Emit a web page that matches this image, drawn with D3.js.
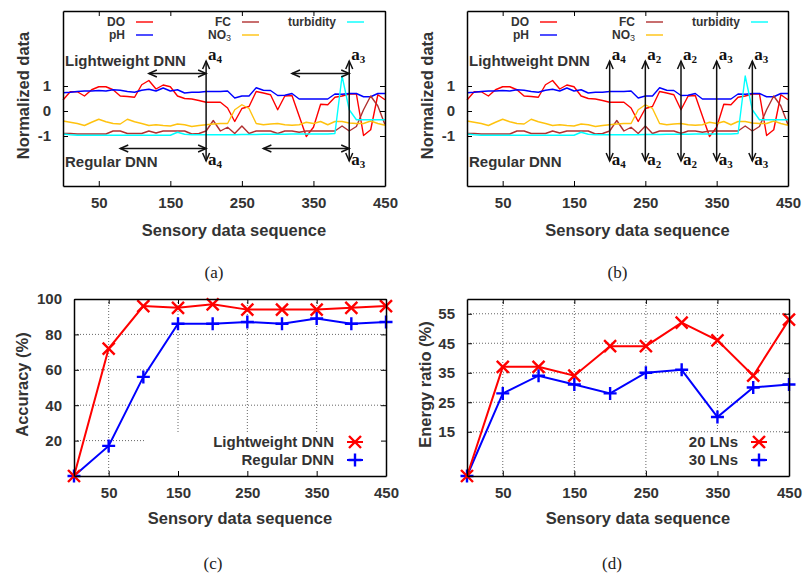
<!DOCTYPE html>
<html>
<head>
<meta charset="utf-8">
<script src="https://cdn.jsdelivr.net/npm/d3@7"></script>
<style>
  body { margin: 0; background: #fff; }
  text { font-family: "Liberation Sans", Arial, sans-serif; }
</style>
</head>
<body>
<svg id="fig" width="804" height="576"></svg>
<script>
// ---- data ----
var seq = d3.range(0, 451, 10);   // sensory data sequence, every 10 samples

var doVals   = [0.44,0.77,0.77,0.6,0.85,0.97,0.97,0.85,0.6,0.58,0.55,1.05,1.22,0.88,1.04,0.97,0.6,0.5,0.48,0.42,0.35,0.35,0.35,0.12,-0.42,0.1,0.18,0.78,0.72,0.65,0.05,0.6,0.62,-0.2,-1.02,-0.65,0.27,0.25,0.55,0.6,0.68,0.68,-0.98,-0.75,0.65,0.45];
var phVals   = [0.73,0.75,0.78,0.8,0.8,0.82,0.8,0.85,0.83,0.78,0.75,0.83,0.87,0.8,0.92,0.8,0.85,0.72,0.75,0.75,0.78,0.78,0.78,0.8,0.52,0.6,0.6,0.93,0.83,0.82,0.62,0.63,0.7,0.48,0.48,0.48,0.48,0.48,0.68,0.67,0.7,0.7,0.57,0.57,0.7,0.7];
var fcVals   = [-0.9,-0.9,-0.92,-0.92,-0.92,-0.92,-0.92,-0.8,-0.8,-0.9,-0.9,-0.9,-0.8,-0.88,-0.8,-0.8,-0.8,-0.8,-0.92,-0.9,-0.8,-0.38,-0.8,-0.65,-0.9,-0.6,-0.9,-0.8,-0.8,-0.8,-0.9,-0.8,-0.8,-0.85,-0.8,-0.8,-0.8,-0.8,-0.8,-0.6,-0.8,-0.62,0.05,0.6,0.2,-0.55];
var no3Vals  = [-0.4,-0.45,-0.5,-0.58,-0.45,-0.33,-0.43,-0.5,-0.52,-0.33,-0.43,-0.5,-0.58,-0.55,-0.58,-0.6,-0.52,-0.55,-0.62,-0.58,-0.55,-0.52,-0.5,-0.5,0.05,0.25,0.1,-0.5,-0.55,-0.52,-0.5,-0.55,-0.57,-0.55,-0.45,-0.5,-0.42,-0.55,-0.42,-0.42,-0.48,-0.5,-0.5,-0.4,-0.5,-0.57];
var turbVals = [-0.92,-0.95,-0.97,-0.97,-0.97,-0.97,-0.97,-0.97,-0.97,-0.97,-0.97,-0.97,-0.97,-0.97,-0.97,-0.97,-0.85,-0.93,-0.95,-0.95,-0.95,-0.95,-0.95,-0.95,-0.95,-0.94,-0.94,-0.94,-0.93,-0.93,-0.93,-0.93,-0.92,-0.92,-0.92,-0.92,-0.92,-0.92,-0.9,1.4,0.05,-0.35,-0.35,-0.35,-0.35,-0.35];

// arrows of panel (a) and (b)
var arrowXA = [200, 400];
var arrowSubA = ["4", "3"];
var spanTopA = [[120, 200], [320, 400]];
var spanBotA = [[80, 200], [280, 400]];
var arrowXB = [200, 250, 300, 350, 400];
var arrowSubB = ["4", "2", "2", "3", "3"];

// panel (c) and (d)
var steps = [0, 50, 100, 150, 200, 250, 300, 350, 400, 450];
var accLight   = [0, 72, 96, 95, 97, 94, 94, 94, 95, 96];
var accRegular = [0, 17, 56, 86, 86, 87, 86, 89, 86, 87];
var energy20 = [0, 37, 37, 34, 44, 44, 52, 46, 34, 53];
var energy30 = [0, 28, 34, 31, 28, 35, 36, 20, 30, 31];

var xTicks = [50, 150, 250, 350, 450];
var yTicksSensor = [-1, 0, 1];
var yTicksAcc = [20, 40, 60, 80, 100];
var yTicksEnergy = [15, 25, 35, 45, 55];

var sensorSeries = [
  { name: "DO", values: doVals, color: "#ff0000" },
  { name: "pH", values: phVals, color: "#0000ff" },
  { name: "FC", values: fcVals, color: "#b03030" },
  { name: "NO3", values: no3Vals, color: "#ffc20e" },
  { name: "turbidity", values: turbVals, color: "#00ffff" }
];

var svg = d3.select("#fig");
var textColor = "#333";
var plainNum = function(d) { return String(d); };   // "-1" with a hyphen, no decimals

// frame + inward ticks on 4 sides
function drawAxes(g, x, y, yTicks) {
  var r = x.range(), t = y.range();
  g.append("g")
      .attr("transform", "translate(0," + t[0] + ")")
      .call(d3.axisBottom(x).tickValues(xTicks).tickFormat(plainNum).tickSize(-5).tickSizeOuter(0).tickPadding(11));
  g.append("g")
      .attr("transform", "translate(0," + t[1] + ")")
      .call(d3.axisTop(x).tickValues(xTicks).tickSize(-5).tickSizeOuter(0).tickFormat(""));
  g.append("g")
      .attr("transform", "translate(" + r[0] + ",0)")
      .call(d3.axisLeft(y).tickValues(yTicks).tickFormat(plainNum).tickSize(-5).tickSizeOuter(0).tickPadding(12));
  g.append("g")
      .attr("transform", "translate(" + r[1] + ",0)")
      .call(d3.axisRight(y).tickValues(yTicks).tickSize(-5).tickSizeOuter(0).tickFormat(""));
  g.selectAll(".domain").attr("stroke", "#000").attr("stroke-width", 1.5);
  g.selectAll(".tick line").attr("stroke", "#000").attr("stroke-width", 1);
  g.selectAll(".tick text")
      .attr("fill", textColor)
      .style("font-family", "'Liberation Sans', Arial, sans-serif")
      .style("font-weight", "bold")
      .style("font-size", "15px");
}

function axisTitles(g, x, y, ytitle, ylabelX, xlabelY) {
  var r = x.range(), t = y.range();
  g.append("text")
      .attr("x", (r[0] + r[1]) / 2 + 10)
      .attr("y", xlabelY)
      .attr("text-anchor", "middle")
      .attr("fill", textColor)
      .style("font-weight", "bold")
      .style("font-size", "16.5px")
      .text("Sensory data sequence");
  g.append("text")
      .attr("transform", "translate(" + ylabelX + "," + ((t[0] + t[1]) / 2 - 3) + ") rotate(-90)")
      .attr("text-anchor", "middle")
      .attr("dy", "0.35em")
      .attr("fill", textColor)
      .style("font-weight", "bold")
      .style("font-size", "16.5px")
      .text(ytitle);
}

function caption(cx, cy, s) {
  svg.append("text")
      .attr("x", cx)
      .attr("y", cy)
      .attr("text-anchor", "middle")
      .style("font-family", "'Liberation Serif', 'Times New Roman', serif")
      .style("font-size", "17px")
      .attr("fill", "#222")
      .text(s);
}

// open V arrow head at (tx,ty), pointing along (dx,dy)
function arrowHead(g, tx, ty, dx, dy) {
  var len = 8, half = 3.5;
  var bx = tx - dx * len, by = ty - dy * len;
  var px = -dy * half, py = dx * half;
  g.append("path")
      .attr("d", "M" + (bx + px) + "," + (by + py) + "L" + tx + "," + ty + "L" + (bx - px) + "," + (by - py))
      .attr("fill", "none")
      .attr("stroke", "#111")
      .attr("stroke-width", 1.5);
}

function subLabel(g, xx, yy, sub) {
  var t = g.append("text")
      .attr("x", xx)
      .attr("y", yy)
      .attr("fill", "#111")
      .style("font-family", "'Liberation Serif', 'Times New Roman', serif")
      .style("font-size", "17px")
      .style("font-weight", "bold")
      .text("a");
  t.append("tspan")
      .attr("dy", 3)
      .style("font-size", "11px")
      .text(sub);
}

function sensorPanel(left, right, arrowsX, arrowsSub, spansTop, spansBot, cap) {
  var g = svg.append("g");
  var x = d3.scaleLinear().domain([0, 450]).range([left, right]);
  var y = d3.scaleLinear().domain([-3, 4]).range([186, 11]);

  var line = d3.line()
      .x(function(d, i) { return x(seq[i]); })
      .y(function(d) { return y(d); });

  sensorSeries.forEach(function(s) {
    g.append("path")
        .attr("d", line(s.values))
        .attr("fill", "none")
        .attr("stroke", s.color)
        .attr("stroke-width", 1.4)
        .attr("stroke-linejoin", "round");
  });

  // legend (two rows, three columns)
  var legX = [left + 62, left + 168, left + 273];
  var legY = [22, 35];
  sensorSeries.forEach(function(s, i) {
    var col = i < 2 ? 0 : (i < 4 ? 1 : 2);
    var row = (i === 1 || i === 3) ? 1 : 0;
    var t = g.append("text")
        .attr("x", legX[col])
        .attr("y", legY[row])
        .attr("dy", "0.35em")
        .attr("text-anchor", "end")
        .attr("fill", textColor)
        .style("font-weight", "bold")
        .style("font-size", "12px");
    if (s.name === "NO3") {
      t.text("NO");
      t.append("tspan").attr("dy", 2).style("font-size", "9px").style("font-weight", "normal").text("3");
    } else {
      t.text(s.name);
    }
    g.append("line")
        .attr("x1", legX[col] + 11).attr("x2", legX[col] + 28)
        .attr("y1", legY[row]).attr("y2", legY[row])
        .attr("stroke", s.color)
        .attr("stroke-width", 1.4);
  });

  g.append("text")
      .attr("x", left + 2).attr("y", 61).attr("dy", "0.35em")
      .attr("fill", textColor)
      .style("font-weight", "bold").style("font-size", "15px")
      .text("Lightweight DNN");
  g.append("text")
      .attr("x", left + 2).attr("y", 162).attr("dy", "0.35em")
      .attr("fill", textColor)
      .style("font-weight", "bold").style("font-size", "15px")
      .text("Regular DNN");

  // vertical double arrows
  arrowsX.forEach(function(v, i) {
    var ax = x(v);
    g.append("line")
        .attr("x1", ax).attr("x2", ax)
        .attr("y1", y(2)).attr("y2", y(-2))
        .attr("stroke", "#111").attr("stroke-width", 1.5);
    arrowHead(g, ax, y(2), 0, -1);
    arrowHead(g, ax, y(-2), 0, 1);
    subLabel(g, ax + 2, y(2) - 1, arrowsSub[i]);
    subLabel(g, ax + 2, y(-2) + 4, arrowsSub[i]);
  });

  // horizontal spans
  function span(pair, level) {
    var yy = y(level);
    g.append("line")
        .attr("x1", x(pair[0])).attr("x2", x(pair[1]))
        .attr("y1", yy).attr("y2", yy)
        .attr("stroke", "#111").attr("stroke-width", 1.5);
    arrowHead(g, x(pair[0]), yy, -1, 0);
    arrowHead(g, x(pair[1]), yy, 1, 0);
  }
  spansTop.forEach(function(p) { span(p, 1.5); });
  spansBot.forEach(function(p) { span(p, -1.5); });

  drawAxes(g, x, y, yTicksSensor);
  axisTitles(g, x, y, "Normalized data", left - 40, 236);
  caption((left + right) / 2 - 10, 278, cap);
}

function resultPanel(left, right, yDomain, yTicks, ytitle, serA, serB, nameA, nameB, legLeft, legTextX, cap) {
  var g = svg.append("g");
  var x = d3.scaleLinear().domain([0, 450]).range([left, right]);
  var y = d3.scaleLinear().domain(yDomain).range([476, 299]);

  // dotted grid
  xTicks.slice(0, 4).forEach(function(v) {
    g.append("line")
        .attr("x1", x(v)).attr("x2", x(v))
        .attr("y1", 299).attr("y2", 476)
        .attr("stroke", "#666").attr("stroke-width", 1).attr("stroke-dasharray", "1,2");
  });
  yTicks.forEach(function(v) {
    if (v === yDomain[1]) return;
    g.append("line")
        .attr("x1", left).attr("x2", right)
        .attr("y1", y(v)).attr("y2", y(v))
        .attr("stroke", "#666").attr("stroke-width", 1).attr("stroke-dasharray", "1,2");
  });

  // legend box hides the grid
  g.append("rect")
      .attr("x", legLeft).attr("y", 434)
      .attr("width", right - legLeft).attr("height", 476 - 434)
      .attr("fill", "#fff");

  var line = d3.line()
      .x(function(d, i) { return x(steps[i]); })
      .y(function(d) { return y(d); });

  function crossMark(cx, cy, color) {
    var s = 6;
    g.append("path")
        .attr("d", "M" + (cx - s) + "," + (cy - s) + "L" + (cx + s) + "," + (cy + s) + "M" + (cx - s) + "," + (cy + s) + "L" + (cx + s) + "," + (cy - s))
        .attr("stroke", color).attr("stroke-width", 2.4).attr("fill", "none");
  }
  function plusMark(cx, cy, color) {
    var s = 6.5;
    g.append("path")
        .attr("d", "M" + (cx - s) + "," + cy + "L" + (cx + s) + "," + cy + "M" + cx + "," + (cy - s) + "L" + cx + "," + (cy + s))
        .attr("stroke", color).attr("stroke-width", 2.4).attr("fill", "none");
  }

  g.append("path")
      .attr("d", line(serB))
      .attr("fill", "none").attr("stroke", "#0000ff").attr("stroke-width", 2);
  serB.forEach(function(d, i) { plusMark(x(steps[i]), y(d), "#0000ff"); });
  g.append("path")
      .attr("d", line(serA))
      .attr("fill", "none").attr("stroke", "#ff0000").attr("stroke-width", 2);
  serA.forEach(function(d, i) { crossMark(x(steps[i]), y(d), "#ff0000"); });

  // legend entries
  [[nameA, "#ff0000", crossMark, 442], [nameB, "#0000ff", plusMark, 460]].forEach(function(e) {
    g.append("text")
        .attr("x", legTextX).attr("y", e[3]).attr("dy", "0.35em")
        .attr("text-anchor", "end")
        .attr("fill", textColor)
        .style("font-weight", "bold").style("font-size", "15px")
        .text(e[0]);
    g.append("line")
        .attr("x1", legTextX + 13).attr("x2", legTextX + 29)
        .attr("y1", e[3]).attr("y2", e[3])
        .attr("stroke", e[1]).attr("stroke-width", 2);
    e[2](legTextX + 21, e[3], e[1]);
  });

  drawAxes(g, x, y, yTicks);
  axisTitles(g, x, y, ytitle, left - (yDomain[1] === 100 ? 52 : 42), 524);
  caption((left + right) / 2 - (yDomain[1] === 100 ? 17 : 16), 569, cap);
}

sensorPanel(63, 385, arrowXA, arrowSubA, spanTopA, spanBotA, "(a)");
sensorPanel(467, 788, arrowXB, arrowSubB, [], [], "(b)");
resultPanel(74, 386, [0, 100], yTicksAcc, "Accuracy (%)", accLight, accRegular, "Lightweight DNN", "Regular DNN", 145, 334, "(c)");
resultPanel(467, 789, [0, 60], yTicksEnergy, "Energy ratio (%)", energy20, energy30, "20 LNs", "30 LNs", 683, 738, "(d)");
</script>
</body>
</html>
